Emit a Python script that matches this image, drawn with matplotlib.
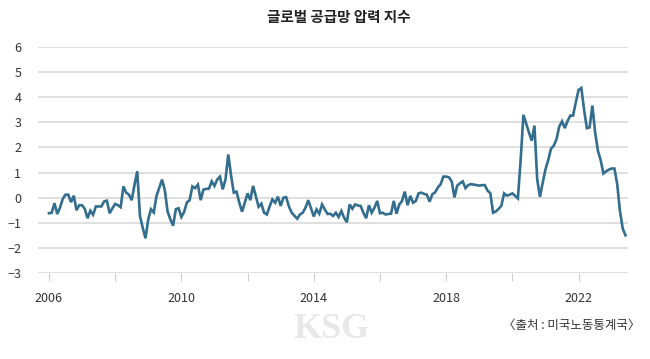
import numpy as np
import matplotlib
matplotlib.use('Agg')
import matplotlib.pyplot as plt

plt.rcParams['font.family'] = ['Noto Sans CJK KR', 'DejaVu Sans']

# monthly index values, Jan 2006 - Jun 2023
values = [
    -0.62, -0.60, -0.22, -0.65, -0.40, -0.05, 0.12, 0.12, -0.18, 0.08, -0.50, -0.30,   # 2006
    -0.30, -0.45, -0.82, -0.52, -0.68, -0.35, -0.35, -0.35, -0.15, -0.12, -0.62, -0.42,  # 2007
    -0.25, -0.30, -0.38, 0.45, 0.20, 0.12, -0.10, 0.50, 1.05, -0.73, -1.20, -1.62,     # 2008
    -0.86, -0.46, -0.59, 0.07, 0.40, 0.72, 0.30, -0.55, -0.86, -1.12, -0.46, -0.42,    # 2009
    -0.77, -0.57, -0.19, -0.10, 0.45, 0.38, 0.52, -0.10, 0.32, 0.35, 0.36, 0.65,       # 2010
    0.47, 0.72, 0.84, 0.33, 0.72, 1.72, 0.90, 0.20, 0.24, -0.20, -0.56, -0.20,         # 2011
    0.17, -0.10, 0.47, 0.05, -0.36, -0.24, -0.60, -0.67, -0.35, -0.07, -0.20, 0.04,    # 2012
    -0.33, 0.00, 0.02, -0.35, -0.60, -0.72, -0.84, -0.67, -0.60, -0.40, -0.10, -0.42,  # 2013
    -0.75, -0.47, -0.64, -0.27, -0.47, -0.65, -0.64, -0.73, -0.60, -0.77, -0.53, -0.80,  # 2014
    -0.98, -0.27, -0.44, -0.27, -0.31, -0.33, -0.60, -0.82, -0.30, -0.60, -0.40, -0.13,  # 2015
    -0.62, -0.60, -0.67, -0.65, -0.64, -0.13, -0.64, -0.27, -0.13, 0.24, -0.30, 0.07,  # 2016
    -0.20, -0.13, 0.17, 0.20, 0.15, 0.12, -0.16, 0.14, 0.21, 0.41, 0.54, 0.84,         # 2017
    0.84, 0.81, 0.65, 0.01, 0.48, 0.57, 0.65, 0.38, 0.50, 0.54, 0.52, 0.50,            # 2018
    0.48, 0.50, 0.50, 0.28, 0.18, -0.60, -0.55, -0.45, -0.32, 0.17, 0.08, 0.12,        # 2019
    0.17, 0.07, -0.03, 1.50, 3.30, 2.95, 2.60, 2.27, 2.87, 0.73, 0.03, 0.60,           # 2020
    1.13, 1.50, 1.95, 2.07, 2.33, 2.83, 3.04, 2.77, 3.05, 3.27, 3.27, 3.80,            # 2021
    4.29, 4.37, 3.50, 2.77, 2.80, 3.67, 2.60, 1.87, 1.50, 0.96, 1.05, 1.12,            # 2022
    1.16, 1.16, 0.54, -0.53, -1.23, -1.50,                                             # 2023
]
start_year = 2006
year_ticks = [2006, 2008, 2010, 2012, 2014, 2016, 2018, 2020, 2022]
year_labels = ['2006', '', '2010', '', '2014', '', '2018', '', '2022']
y_ticks = [-3, -2, -1, 0, 1, 2, 3, 4, 5, 6]

title = '글로벌 공급망 압력 지수'
source = '〈출처 : 미국노동통계국〉'

t = start_year + np.arange(len(values)) / 12

fig = plt.figure(figsize=(6.5, 3.59), dpi=100)
ax = fig.add_axes([0.0585, 0.2396, 0.9075, 0.6294])

ax.plot(t, values, color='#336e8e', lw=1.9, solid_joinstyle='miter', zorder=3)

ax.set_ylim(-3, 6)
ax.set_xlim(2005.67, 2023.49)
ax.set_yticks(y_ticks)
ax.set_yticklabels([str(v).replace('-', '\u2212') for v in y_ticks])
ax.set_xticks(year_ticks)
ax.set_xticklabels(year_labels)

ax.yaxis.grid(True, color='#d6d6d6', lw=1.1)
ax.set_axisbelow(True)
for s in ax.spines.values():
    s.set_visible(False)

ax.tick_params(axis='y', length=0, pad=12, labelsize=9, labelcolor='#333333')
ax.tick_params(axis='x', length=6, width=0.8, color='#cccccc', pad=8,
               labelsize=9, labelcolor='#333333')

fig.text(339 / 650, 1 - 17 / 359, title, ha='center', va='center',
         fontsize=10.5, fontweight='bold', color='#222222')
fig.text(640 / 650, 1 - 325 / 359, source, ha='right', va='center',
         fontsize=9, color='#333333')
# faint watermark
fig.text(332 / 650, 1 - 330 / 359, 'KSG', ha='center', va='center',
         fontsize=26, fontweight='bold', family='Liberation Serif',
         color='#e8e8e8', zorder=0)

fig.savefig('out.png', dpi=100)
